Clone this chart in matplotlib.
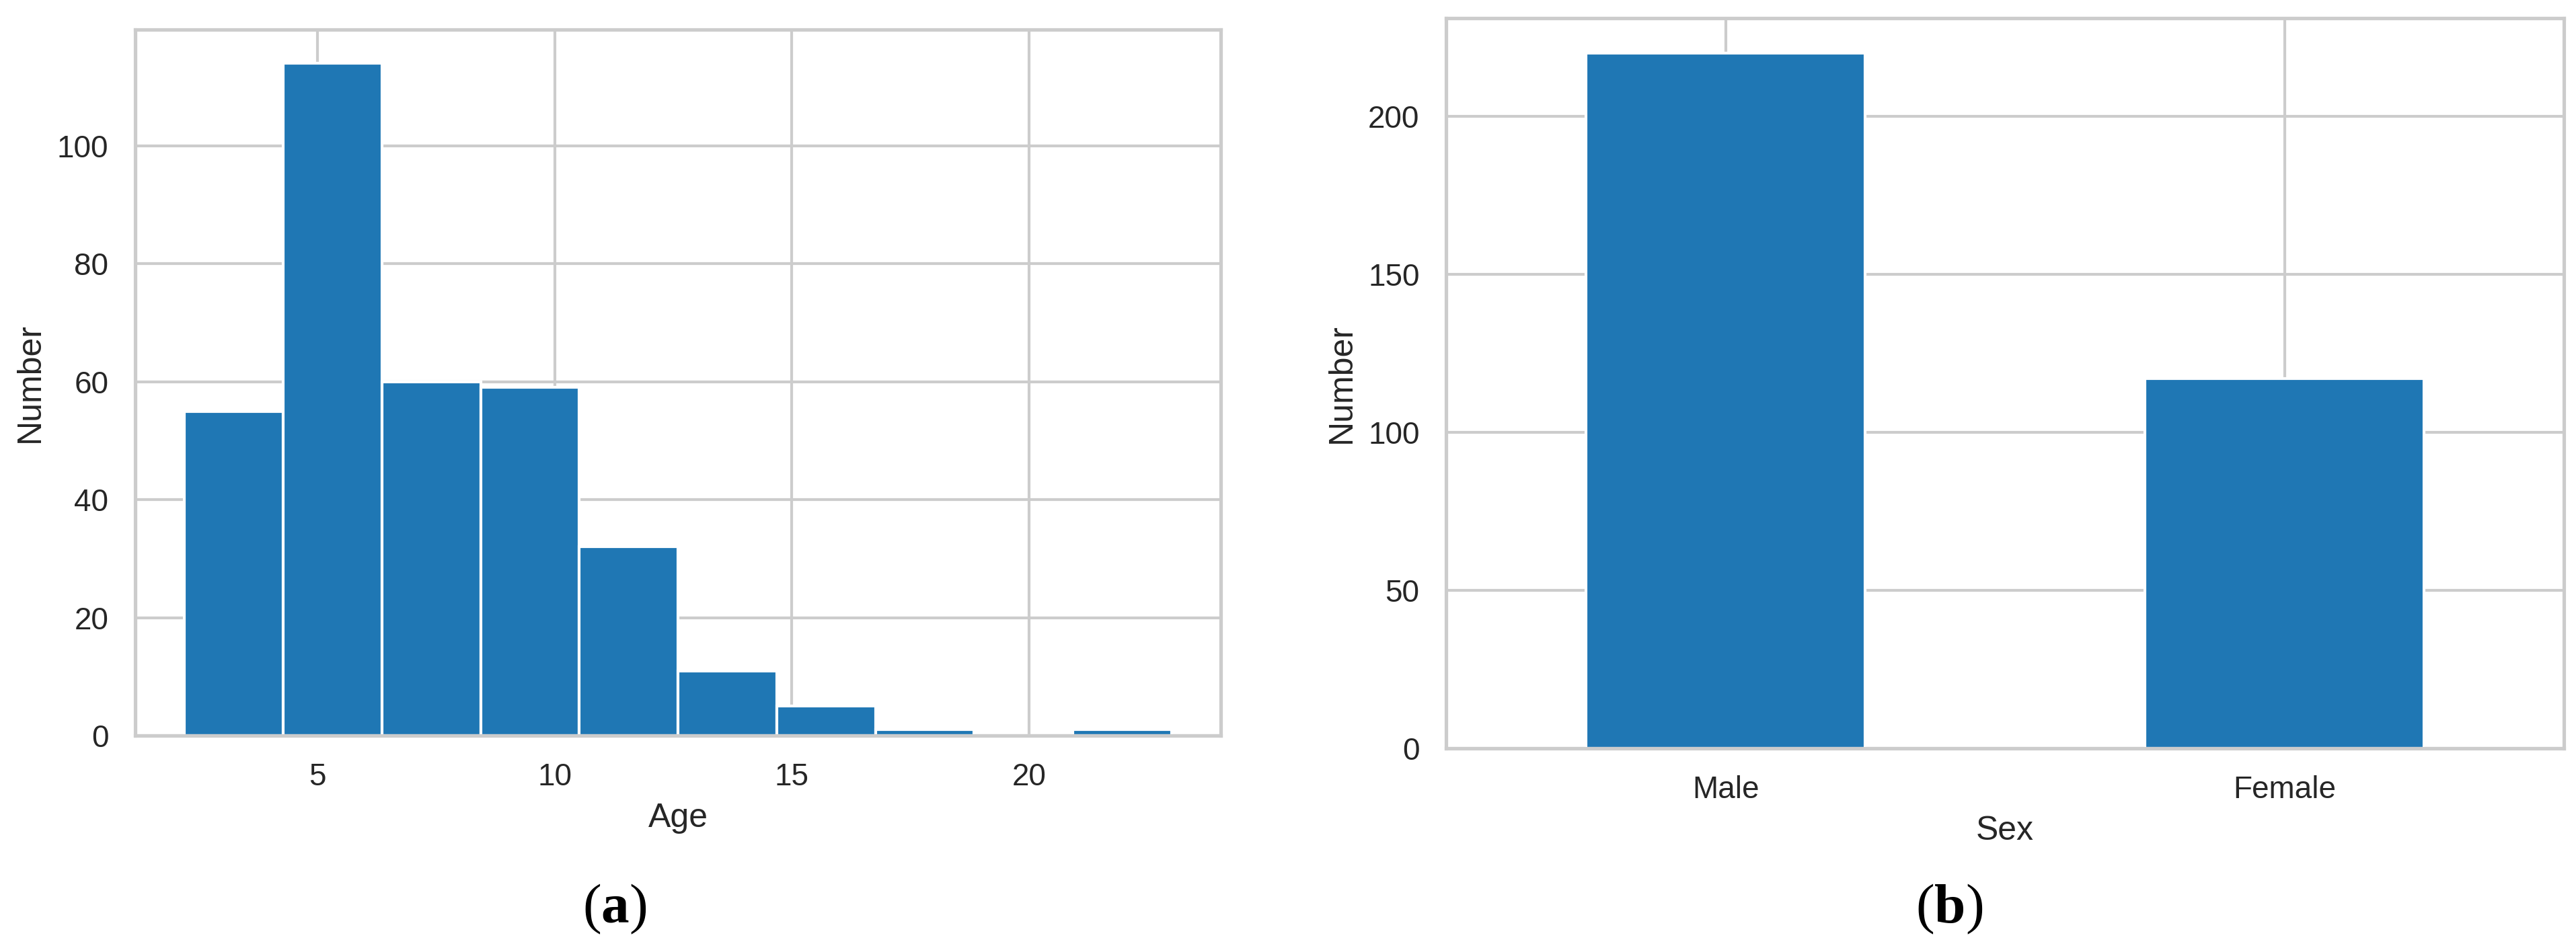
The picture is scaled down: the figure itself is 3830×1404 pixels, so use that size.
import matplotlib
matplotlib.use("Agg")
import matplotlib.pyplot as plt
import numpy as np
import seaborn as sns

# histogram of age (bin edges and counts)
age_edges = [2.2, 4.28, 6.36, 8.44, 10.52, 12.6, 14.68, 16.76, 18.84, 20.92, 23.0]
age_counts = [55, 114, 60, 59, 32, 11, 5, 1, 0, 1]

# counts per sex
sex_labels = ["Male", "Female"]
sex_counts = [220, 117]

BAR_COLOR = "#1f77b4"


def plot_age_hist(ax):
    edges = np.array(age_edges)
    ax.bar(edges[:-1], age_counts, width=np.diff(edges), align="edge",
           color=BAR_COLOR, edgecolor="white", linewidth=1)
    ax.set_xticks([5, 10, 15, 20])
    ax.set_yticks([0, 20, 40, 60, 80, 100])
    ax.set_xlabel("Age")
    ax.set_ylabel("Number")


def plot_sex_bar(ax):
    x = np.arange(len(sex_labels))
    ax.bar(x, sex_counts, width=0.5, color=BAR_COLOR, edgecolor="white", linewidth=1)
    ax.set_xticks(x)
    ax.set_xticklabels(sex_labels)
    ax.set_xlim(-0.5, 1.5)
    ax.set_yticks([0, 50, 100, 150, 200])
    ax.set_xlabel("Sex")
    ax.set_ylabel("Number")


def add_caption(fig, x, letter):
    fig.text(x, 0.0228, "(" + r"$\mathbf{" + letter + "}$" + ")", ha="center", va="baseline",
             fontsize=20, color="black", family="Liberation Serif")


if __name__ == '__main__':
    sns.set_theme(style="whitegrid")
    plt.rcParams['font.family'] = ['Liberation Sans', 'DejaVu Sans']
    plt.rcParams['mathtext.fontset'] = 'custom'
    plt.rcParams['mathtext.bf'] = 'Liberation Serif:bold'
    plt.rcParams['mathtext.rm'] = 'Liberation Serif'

    fig = plt.figure(figsize=(3830 / 300, 1404 / 300), dpi=300)
    ax1 = fig.add_axes([0.0525, 0.2208, 0.4214, 0.7479])
    ax2 = fig.add_axes([0.5614, 0.2073, 0.4339, 0.7735])
    plot_age_hist(ax1)
    plot_sex_bar(ax2)
    add_caption(fig, 0.2386, "a")
    add_caption(fig, 0.7567, "b")
    plt.savefig("out.png", dpi=300)
